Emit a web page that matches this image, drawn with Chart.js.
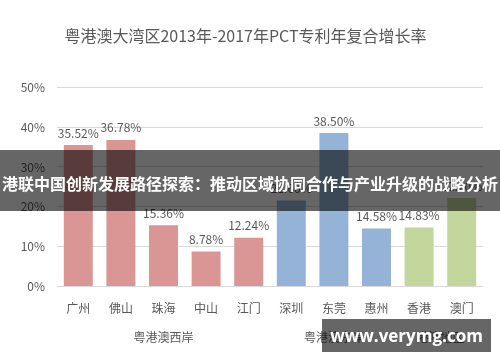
<!DOCTYPE html>
<html>
<head>
<meta charset="utf-8">
<script src="https://cdn.jsdelivr.net/npm/chart.js@4"></script>
<style>
  html, body { margin: 0; padding: 0; background: #fff; }
  #wrap { position: relative; width: 500px; height: 362px; overflow: hidden; }
  #banner {
    position: absolute; left: 0; top: 150px; width: 500px; height: 61px;
    background: rgba(0, 0, 0, 0.6); color: #fff;
    font: bold 16px "Noto Sans CJK SC", sans-serif;
    white-space: nowrap; box-sizing: border-box; padding: 22px 0 0 2px; line-height: 22px;
  }
  #mark {
    position: absolute; left: 322px; top: 319px; width: 169px; height: 33px;
    background: rgba(0, 0, 0, 0.6); color: #fff;
    font: bold 17px "Open Sans", sans-serif; text-align: center; line-height: 33px;
  }
</style>
</head>
<body>
<div id="wrap">
  <canvas id="chart" width="500" height="362"></canvas>
  <div id="banner">港联中国创新发展路径探索：推动区域协同合作与产业升级的战略分析</div>
  <div id="mark">www.verymg.com</div>
</div>
<script>
const cities = ['广州', '佛山', '珠海', '中山', '江门', '深圳', '东莞', '惠州', '香港', '澳门'];
const growth = [35.52, 36.78, 15.36, 8.78, 12.24, 21.6, 38.50, 14.58, 14.83, 22.2];
const regionNames = ['粤港澳西岸', '粤港澳东岸', '港澳地区'];
const regionOf = [0, 0, 0, 0, 0, 1, 1, 1, 2, 2];
const regionColors = ['#d99694', '#95b3d7', '#c3d69b'];
const yTicks = [0, 10, 20, 30, 40, 50];

const FONT = '"Noto Sans CJK SC", sans-serif';
const TEXT = '#595959';

// value labels above bars + region names under the city labels
const labelsPlugin = {
  id: 'labels',
  afterDatasetsDraw(chart) {
    const ctx = chart.ctx;
    const meta = chart.getDatasetMeta(0);
    ctx.save();
    ctx.font = '12px ' + FONT;
    ctx.fillStyle = TEXT;
    ctx.textAlign = 'center';
    ctx.textBaseline = 'middle';
    meta.data.forEach((bar, i) => {
      ctx.fillText(growth[i].toFixed(2) + '%', bar.x, bar.y - 12);
    });
    const x = chart.scales.x;
    regionNames.forEach((name, r) => {
      const idx = regionOf.map((g, i) => g === r ? i : -1).filter(i => i >= 0);
      const cx = (x.getPixelForValue(idx[0]) + x.getPixelForValue(idx[idx.length - 1])) / 2;
      ctx.fillText(name, cx, 337);
    });
    ctx.restore();
  }
};

new Chart(document.getElementById('chart'), {
  type: 'bar',
  data: {
    labels: cities,
    datasets: [{
      data: growth,
      backgroundColor: regionOf.map(r => regionColors[r]),
      barPercentage: 0.68,
      categoryPercentage: 1
    }]
  },
  options: {
    responsive: false,
    animation: false,
    layout: { padding: { left: 8, right: 17, top: 26, bottom: 39 } },
    plugins: {
      legend: { display: false },
      tooltip: { enabled: false },
      title: {
        display: true,
        text: '粤港澳大湾区2013年-2017年PCT专利年复合增长率',
        color: TEXT,
        font: { family: FONT, size: 16, weight: 'normal' },
        padding: { top: 0, bottom: 42 }
      }
    },
    scales: {
      x: {
        grid: { display: false },
        border: { display: false },
        ticks: { color: TEXT, font: { family: FONT, size: 12 }, padding: 7 }
      },
      y: {
        min: 0,
        max: 50,
        afterFit(scale) { scale.width = 49; },
        afterBuildTicks(scale) { scale.ticks = yTicks.map(v => ({ value: v })); },
        grid: { color: '#d9d9d9', drawTicks: false },
        border: { display: false },
        ticks: {
          color: TEXT,
          font: { family: FONT, size: 12 },
          padding: 12,
          callback: v => v + '%'
        }
      }
    }
  },
  plugins: [labelsPlugin]
});
</script>
</body>
</html>
